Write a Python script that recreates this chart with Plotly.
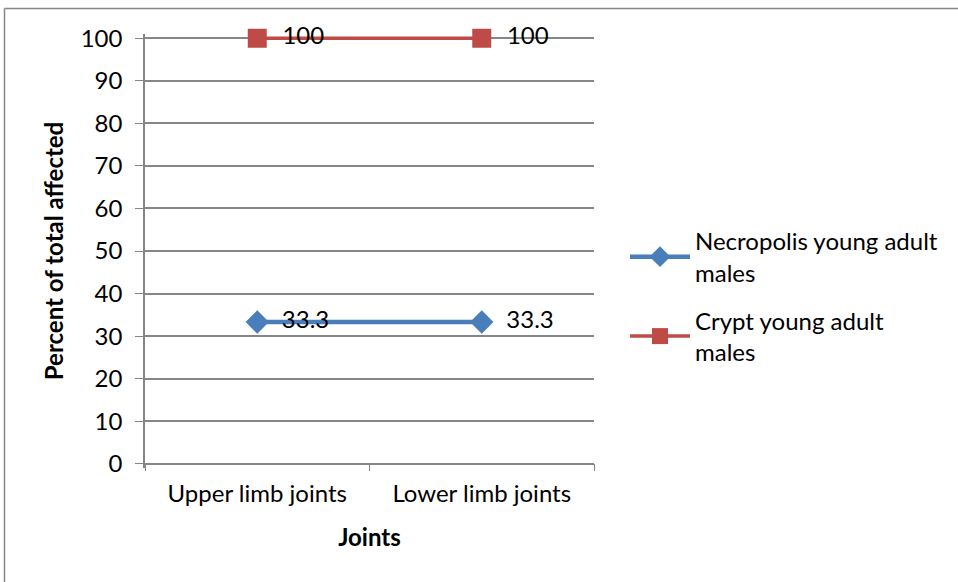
import plotly.graph_objects as go

categories = ["Upper limb joints", "Lower limb joints"]
necropolis = [33.3, 33.3]
crypt = [100, 100]
series_names = ["Necropolis young adult<br>males", "Crypt young adult<br>males"]
y_ticks = list(range(0, 101, 10))

FONT = "Lato, Open Sans, sans-serif"
FS = 24
W, H = 958, 582
L, R, T, B = 145, 364, 34, 114
pw, ph = W - L - R, H - T - B
Y_RANGE = [-1, 101]  # small headroom so the line at 100 is not clipped
PAD = "\u00a0\u00a0"  # gap between marker and its value label

fig = go.Figure()
fig.add_trace(go.Scatter(
    x=categories, y=necropolis, name=series_names[0], legendgroup="necropolis",
    mode="lines+markers+text", cliponaxis=False,
    line=dict(color="#4a7ebb", width=4.5),
    marker=dict(symbol="diamond", size=18, color="#4a7ebb"),
    text=[PAD + f"{v:g}" for v in necropolis], textposition="middle right",
    textfont=dict(family=FONT, size=FS, color="#000000"),
))
fig.add_trace(go.Scatter(
    x=categories, y=crypt, name=series_names[1], legendgroup="crypt",
    mode="lines+markers+text", cliponaxis=False,
    line=dict(color="#be4b48", width=3.5),
    marker=dict(symbol="square", size=19, color="#be4b48"),
    text=[PAD + f"{v:g}" for v in crypt], textposition="middle right",
    textfont=dict(family=FONT, size=FS, color="#000000"),
))

# outer chart frame (top and left edges)
def px_x(p):
    return (p - L) / pw

def px_y(p):
    return (H - B - p) / ph

fig.add_shape(type="line", xref="paper", yref="paper",
              x0=px_x(4.5), x1=px_x(958), y0=px_y(8.5), y1=px_y(8.5),
              line=dict(color="#868686", width=1.5))
fig.add_shape(type="line", xref="paper", yref="paper",
              x0=px_x(4.5), x1=px_x(4.5), y0=px_y(8.5), y1=px_y(582),
              line=dict(color="#868686", width=1.5))

zero_frac = (0 - Y_RANGE[0]) / (Y_RANGE[1] - Y_RANGE[0])

fig.update_layout(
    width=W, height=H,
    margin=dict(l=L, r=R, t=T, b=B),
    paper_bgcolor="white", plot_bgcolor="white",
    font=dict(family=FONT, size=FS, color="#000000"),
    showlegend=True,
    legend=dict(x=px_x(625), y=px_y(219), xanchor="left", yanchor="top",
                font=dict(family=FONT, size=FS), tracegroupgap=14,
                itemwidth=60, bgcolor="rgba(0,0,0,0)"),
    xaxis=dict(
        type="category", range=[-0.5, 1.5],
        anchor="free", position=zero_frac,
        tickson="boundaries", ticks="outside", ticklen=7, tickcolor="#868686",
        showline=True, linecolor="#868686", linewidth=1.5,
        showgrid=False, zeroline=False, ticklabelstandoff=9,
        tickfont=dict(family=FONT, size=FS),
        title=dict(text="<b>Joints</b>", font=dict(family=FONT, size=FS), standoff=22),
    ),
    yaxis=dict(
        range=Y_RANGE, tickvals=y_ticks,
        ticks="outside", ticklen=8, tickcolor="#868686",
        showline=True, linecolor="#868686", linewidth=1.5,
        showgrid=True, gridcolor="#868686", gridwidth=1.5,
        zeroline=False, ticklabelstandoff=8,
        tickfont=dict(family=FONT, size=FS),
        title=dict(text="<b>Percent of total affected</b>",
                   font=dict(family=FONT, size=FS), standoff=10),
    ),
)

fig.write_html("out.html")
